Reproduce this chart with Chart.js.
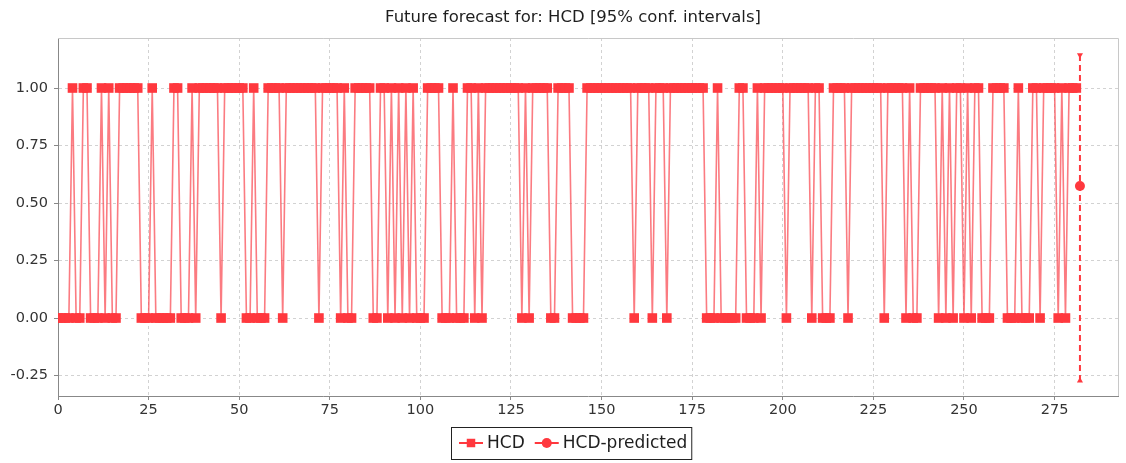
<!DOCTYPE html>
<html>
<head>
<meta charset="utf-8">
<script src="https://cdn.jsdelivr.net/npm/chart.js@4.4.1/dist/chart.umd.min.js"></script>
<style>
  html, body { margin: 0; padding: 0; background: #fff; }
</style>
</head>
<body>
<canvas id="forecastChart" width="1126" height="463"></canvas>
<script>
const chartTitle = 'Future forecast for: HCD [95% conf. intervals]';
const seriesNames = ['HCD', 'HCD-predicted'];

// HCD observations, one value per step (0..281)
const hcdValues = [
    0, 0, 0, 0, 1, 0, 0, 1, 1, 0,
    0, 0, 1, 0, 1, 0, 0, 1, 1, 1,
    1, 1, 1, 0, 0, 0, 1, 0, 0, 0,
    0, 0, 1, 1, 0, 0, 0, 1, 0, 1,
    1, 1, 1, 1, 1, 0, 1, 1, 1, 1,
    1, 1, 0, 0, 1, 0, 0, 0, 1, 1,
    1, 1, 0, 1, 1, 1, 1, 1, 1, 1,
    1, 1, 0, 1, 1, 1, 1, 1, 0, 1,
    0, 0, 1, 1, 1, 1, 1, 0, 0, 1,
    1, 0, 1, 0, 1, 0, 1, 0, 1, 0,
    0, 0, 1, 1, 1, 1, 0, 0, 0, 1,
    0, 0, 0, 1, 1, 0, 1, 0, 1, 1,
    1, 1, 1, 1, 1, 1, 1, 1, 0, 1,
    0, 1, 1, 1, 1, 1, 0, 0, 1, 1,
    1, 1, 0, 0, 0, 0, 1, 1, 1, 1,
    1, 1, 1, 1, 1, 1, 1, 1, 1, 0,
    1, 1, 1, 1, 0, 1, 1, 1, 0, 1,
    1, 1, 1, 1, 1, 1, 1, 1, 1, 0,
    0, 0, 1, 0, 0, 0, 0, 0, 1, 1,
    0, 0, 0, 1, 0, 1, 1, 1, 1, 1,
    1, 0, 1, 1, 1, 1, 1, 1, 0, 1,
    1, 0, 0, 0, 1, 1, 1, 1, 0, 1,
    1, 1, 1, 1, 1, 1, 1, 1, 0, 1,
    1, 1, 1, 1, 0, 1, 0, 0, 1, 1,
    1, 1, 1, 0, 1, 0, 1, 0, 1, 1,
    0, 1, 0, 1, 1, 0, 0, 0, 1, 1,
    1, 1, 0, 0, 0, 1, 0, 0, 0, 1,
    1, 0, 1, 1, 1, 1, 0, 1, 0, 1,
    1, 1
];

// forecast for the next step with its 95% interval
const predictedX = 282;
const predictedValue = 0.574;
const predictedUpper = 1.143;
const predictedLower = -0.273;

const xTicks = [0, 25, 50, 75, 100, 125, 150, 175, 200, 225, 250, 275];
const yTicks = [-0.25, 0, 0.25, 0.5, 0.75, 1];

const red = 'rgb(255, 56, 62)';
const redLine = 'rgba(250, 72, 80, 0.72)';
const fontFamily = '"DejaVu Sans", sans-serif';

const frame = {
    id: 'frame',
    beforeDraw(chart) {
        const ctx = chart.ctx;
        ctx.save();
        ctx.fillStyle = '#fff';
        ctx.fillRect(0, 0, chart.width, chart.height);
        ctx.restore();
    },
    afterDraw(chart) {
        const { ctx, chartArea: a } = chart;
        ctx.save();
        // top and right edges of the plot
        ctx.strokeStyle = '#c8c8c8';
        ctx.lineWidth = 1;
        ctx.beginPath();
        ctx.moveTo(a.left, a.top + 0.5);
        ctx.lineTo(a.right + 0.5, a.top + 0.5);
        ctx.lineTo(a.right + 0.5, a.bottom);
        ctx.stroke();

        // title
        ctx.fillStyle = '#1e1e1e';
        ctx.font = '16.5px ' + fontFamily;
        ctx.textAlign = 'center';
        ctx.textBaseline = 'middle';
        ctx.fillText(chartTitle, 573, 18);

        // legend
        ctx.font = '17px ' + fontFamily;
        ctx.textAlign = 'left';
        const w0 = ctx.measureText(seriesNames[0]).width;
        const w1 = ctx.measureText(seriesNames[1]).width;
        const total = 8 + 24 + 4 + w0 + 10 + 24 + 4 + w1 + 4;
        const left = Math.round(571 - total / 2);
        const top = 427, h = 32, cy = top + h / 2;
        ctx.strokeStyle = '#222';
        ctx.lineWidth = 1;
        ctx.strokeRect(left + 0.5, top + 0.5, total, h);

        let x = left + 8;
        const styles = ['rect', 'circle'];
        const radii = [6, 5];
        seriesNames.forEach((name, i) => {
            ctx.strokeStyle = red;
            ctx.lineWidth = 2;
            ctx.beginPath();
            ctx.moveTo(x, cy);
            ctx.lineTo(x + 24, cy);
            ctx.stroke();
            ctx.fillStyle = red;
            Chart.helpers.drawPoint(ctx, { pointStyle: styles[i], radius: radii[i], rotation: 0, borderWidth: 0 }, x + 12, cy);
            ctx.fillStyle = '#1e1e1e';
            ctx.fillText(name, x + 28, cy + 1);
            x += 28 + (i === 0 ? w0 : w1) + 10;
        });
        ctx.restore();
    }
};

const ctx = document.getElementById('forecastChart').getContext('2d');
const forecastChart = new Chart(ctx, {
    type: 'line',
    data: {
        datasets: [{
            label: seriesNames[0],
            data: hcdValues.map((v, i) => ({ x: i, y: v })),
            borderColor: redLine,
            borderWidth: 1.6,
            pointStyle: 'rect',
            pointRadius: 6.8,
            pointBackgroundColor: red,
            pointBorderWidth: 0,
            tension: 0
        }, {
            label: seriesNames[1],
            data: [{ x: predictedX, y: predictedValue }],
            showLine: false,
            pointStyle: 'circle',
            pointRadius: 5,
            pointBackgroundColor: red,
            pointBorderWidth: 0
        }, {
            label: 'interval',
            data: [{ x: predictedX, y: predictedUpper }, { x: predictedX, y: predictedLower }],
            borderColor: red,
            borderWidth: 2,
            borderDash: [6, 4],
            pointStyle: 'triangle',
            pointRadius: 3.5,
            pointRotation: [180, 0],
            pointBackgroundColor: red,
            pointBorderWidth: 0
        }]
    },
    options: {
        responsive: false,
        animation: false,
        devicePixelRatio: 1,
        layout: { padding: { left: 0, top: 38, right: 8, bottom: 43 } },
        plugins: {
            legend: { display: false },
            title: { display: false },
            tooltip: { enabled: false }
        },
        scales: {
            x: {
                type: 'linear',
                min: 0,
                max: 292.5,
                afterBuildTicks: (scale) => { scale.ticks = xTicks.map(v => ({ value: v })); },
                afterFit: (scale) => { scale.height = 24; },
                grid: { color: '#d2d2d2', tickColor: '#888', tickLength: 4, tickBorderDash: [] },
                border: { color: '#888', width: 1, dash: [3, 3] },
                ticks: { color: '#333', font: { family: fontFamily, size: 14.5 }, padding: 2, maxRotation: 0 }
            },
            y: {
                min: -0.339,
                max: 1.2174,
                afterBuildTicks: (scale) => { scale.ticks = yTicks.map(v => ({ value: v })); },
                afterFit: (scale) => { scale.width = 58; },
                grid: { color: '#d2d2d2', tickColor: '#888', tickLength: 4, tickBorderDash: [] },
                border: { color: '#888', width: 1, dash: [3, 3] },
                ticks: { color: '#333', font: { family: fontFamily, size: 14.5 }, padding: 6, callback: (v) => v.toFixed(2) }
            }
        }
    },
    plugins: [frame]
});
</script>
</body>
</html>
